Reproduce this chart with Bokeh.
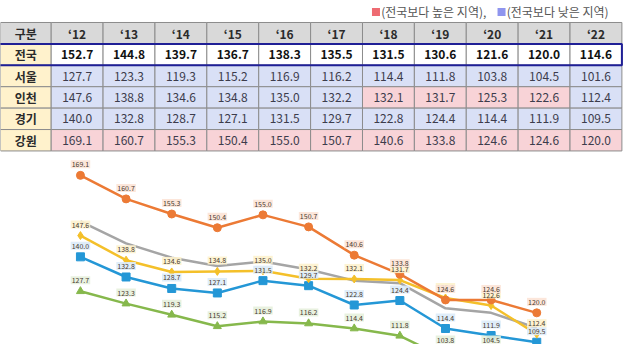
from bokeh.plotting import figure
from bokeh.models import Range1d, ColumnDataSource
from bokeh.core.properties import value
from bokeh.embed import file_html
from bokeh.resources import INLINE

# ---------------- data ----------------
years = ["‘12", "‘13", "‘14", "‘15", "‘16", "‘17", "‘18", "‘19", "‘20", "‘21", "‘22"]
regions = ["전국", "서울", "인천", "경기", "강원"]
national = [152.7, 144.8, 139.7, 136.7, 138.3, 135.5, 131.5, 130.6, 121.6, 120.0, 114.6]
seoul = [127.7, 123.3, 119.3, 115.2, 116.9, 116.2, 114.4, 111.8, 103.8, 104.5, 101.6]
incheon = [147.6, 138.8, 134.6, 134.8, 135.0, 132.2, 132.1, 131.7, 125.3, 122.6, 112.4]
gyeonggi = [140.0, 132.8, 128.7, 127.1, 131.5, 129.7, 122.8, 124.4, 114.4, 111.9, 109.5]
gangwon = [169.1, 160.7, 155.3, 150.4, 155.0, 150.7, 140.6, 133.8, 124.6, 124.6, 120.0]
series = [national, seoul, incheon, gyeonggi, gangwon]
header_label = "구분"
legend_high = "(전국보다 높은 지역),"
legend_low = "(전국보다 낮은 지역)"

FONT = value("Noto Sans CJK KR")
W, H = 624, 344
VMIN, VMAX = 108.69, 231.56

p = figure(width=W, height=H, output_backend="svg", toolbar_location=None,
           x_range=Range1d(-0.977, 11.05), y_range=Range1d(15.04, -1.027),
           min_border=0, outline_line_color=None)
p.axis.visible = False
p.grid.visible = False
p.background_fill_color = "white"
p.border_fill_color = "white"
p.extra_x_ranges = {"yr": Range1d(-1.752, 11.923)}
p.extra_y_ranges = {"val": Range1d(VMIN, VMAX)}

n = len(years)
FIRST_W = 0.977

# ---- header row ----
p.quad(left=[-FIRST_W] + list(range(n)), right=[0] + [i + 1 for i in range(n)],
       top=[0] * (n + 1), bottom=[1] * (n + 1),
       fill_color="#d9d9d9", line_color="#8c8c8c", line_width=1)
p.text(x=[-FIRST_W / 2] + [i + 0.5 for i in range(n)], y=[0.5] * (n + 1),
       text=[header_label] + years, text_font=FONT, text_font_size="12px",
       text_font_style="bold", text_color="#2b2b2b",
       text_align="center", text_baseline="middle")

# ---- body rows ----
lefts, rights, tops, bots, fills, tx, ty, tt, styles, colors = [], [], [], [], [], [], [], [], [], []
for r, (name, vals) in enumerate(zip(regions, series)):
    row = r + 1
    lefts.append(-FIRST_W); rights.append(0); tops.append(row); bots.append(row + 1)
    fills.append("#fff2cc")
    tx.append(-FIRST_W / 2); ty.append(row + 0.5); tt.append(name)
    styles.append("bold"); colors.append("#2b2b2b")
    for i, v in enumerate(vals):
        lefts.append(i); rights.append(i + 1); tops.append(row); bots.append(row + 1)
        if r == 0:
            fills.append("white"); styles.append("bold"); colors.append("#111111")
        else:
            fills.append("#f8d3d7" if v > national[i] else "#d9e0f6")
            styles.append("normal"); colors.append("#3c3c4c")
        tx.append(i + 0.5); ty.append(row + 0.5); tt.append(f"{v:.1f}")

p.quad(left=lefts, right=rights, top=tops, bottom=bots, fill_color=fills,
       line_color="#8c8c8c", line_width=1)
src_t = ColumnDataSource(dict(x=tx, y=ty, t=tt, s=styles, c=colors))
p.text(x="x", y="y", text="t", source=src_t, text_font=FONT, text_font_size="12px",
       text_font_style="s", text_color="c", text_align="center", text_baseline="middle")

# navy frame for national row
p.quad(left=[-FIRST_W - 0.05], right=[n], top=[1], bottom=[2], fill_color=None,
       line_color="#1f1f96", line_width=2)

# ---- legend ----
p.scatter(x=[6.26, 8.68], y=[-0.49, -0.49], marker="square", size=8,
          fill_color=["#ee6b72", "#8f95ee"], line_color=None)
p.text(x=[6.36, 8.78], y=[-0.49, -0.49], text=[legend_high, legend_low],
       text_font=FONT, text_font_size="12px", text_color="#555555",
       text_align="left", text_baseline="middle")

# ---- line chart ----
idx = list(range(n))
cfg = [
    (seoul, "#86b84c", "triangle", "#e6f0db"),
    (gyeonggi, "#2497d6", "square", "#dcebf8"),
    (national, "#a5a5a5", None, None),
    (incheon, "#f4c02a", "diamond", "#fdf2cd"),
    (gangwon, "#ec7a35", "circle", "#fce3d6"),
]
for vals, col, mk, bg in cfg:
    p.line(x=idx, y=vals, x_range_name="yr", y_range_name="val",
           line_color=col, line_width=2.5)
    if mk:
        p.scatter(x=idx, y=vals, x_range_name="yr", y_range_name="val",
                  marker=mk, size=8, fill_color=col, line_color=col)

# labels sit 11px above their point; keep those near the bottom edge inside the frame
vpp = (VMAX - VMIN) / H
lift = 11 * vpp
floor_label = VMIN + 5 * vpp
for vals, col, mk, bg in cfg:
    if not bg:
        continue
    lx, ly, lt = [], [], []
    for i, v in enumerate(vals):
        lab = v + lift
        if lab < VMIN - 4 * vpp:
            continue
        lx.append(i); ly.append(max(lab, floor_label)); lt.append(f"{v:.1f}")
    p.text(x=lx, y=ly, x_range_name="yr", y_range_name="val", text=lt,
           text_font=FONT, text_font_size="7px", text_color="#4a3a30",
           text_align="center", text_baseline="middle",
           background_fill_color=bg, background_fill_alpha=0.9, padding=1)

open("out.html", "w").write(file_html(p, INLINE))
